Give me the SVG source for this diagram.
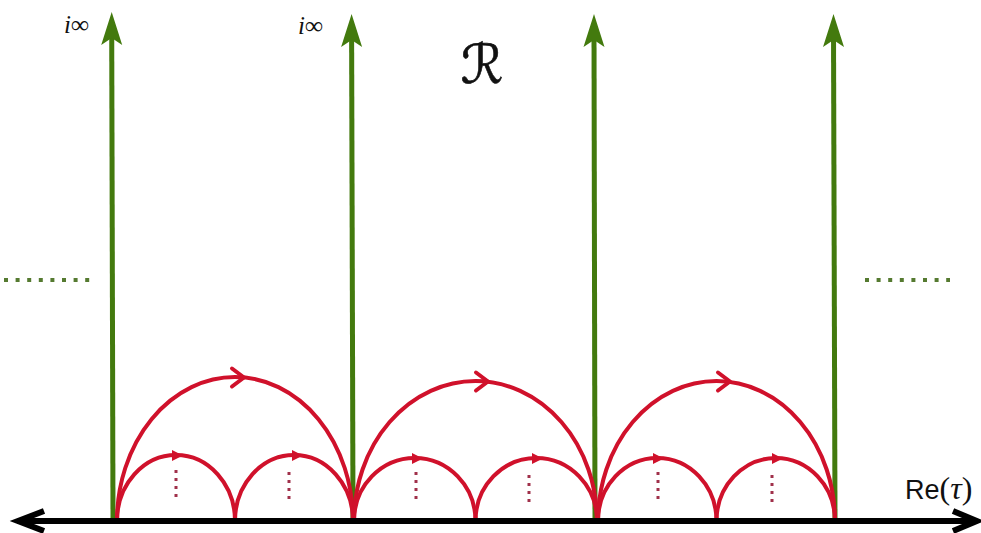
<svg xmlns="http://www.w3.org/2000/svg" xmlns:xlink="http://www.w3.org/1999/xlink" width="981" height="533" viewBox="0 0 981 533">
<style>
.g{stroke:#437a0e;stroke-width:5;fill:none}
.gh{fill:#437a0e;stroke:none}
.gd{stroke:#557a30;stroke-width:4;stroke-dasharray:4 7.6;fill:none}
.r{stroke:#d0112b;stroke-width:4;fill:none}
.rc{stroke:#d0112b;stroke-width:4;fill:none;stroke-linecap:round;stroke-linejoin:round}
.rt{fill:#d0112b;stroke:none}
.rd{stroke:#a0304a;stroke-width:3;stroke-dasharray:3 5;fill:none}
.ax{stroke:#000;stroke-width:6;fill:none}
.inf{font-family:"Liberation Serif","DejaVu Serif",serif;font-style:italic;font-size:25px;fill:#111}
</style>
<defs>
<path id="gArrow" d="M0,0 L10.5,33 L0,26 L-10.5,33 Z"/>
<path id="chev" d="M-12,-9 L0,0 L-12,9"/>
<path id="tri" d="M-10,-5.5 L1,0 L-10,5.5 Z"/>
</defs>
<rect width="981" height="533" fill="#fff"/>

<g id="verticals">
<line class="g" x1="113" y1="518" x2="111.7" y2="30"/>
<use class="gh" xlink:href="#gArrow" x="111.7" y="12"/>
<line class="g" x1="353" y1="518" x2="351.6" y2="32"/>
<use class="gh" xlink:href="#gArrow" x="351.6" y="14"/>
<line class="g" x1="595" y1="518" x2="594" y2="32"/>
<use class="gh" xlink:href="#gArrow" x="594" y="14"/>
<line class="g" x1="835" y1="518" x2="833.5" y2="32"/>
<use class="gh" xlink:href="#gArrow" x="833.5" y="14"/>
</g>

<g id="ellipsis-dots">
<line class="gd" x1="4" y1="280" x2="90" y2="280"/>
<line class="gd" x1="865" y1="280" x2="950" y2="280"/>
</g>

<g id="arcs">
<path class="r" d="M117,521 A118,144 0 0 1 353,521"/>
<path class="r" d="M117,521 A59,66 0 0 1 235,521"/>
<path class="r" d="M235,521 A59,66 0 0 1 353,521"/>
<use class="rc" xlink:href="#chev" x="244" y="377.5"/>
<use class="rt" xlink:href="#tri" x="182" y="455.5"/>
<use class="rt" xlink:href="#tri" x="302" y="455.5"/>
<line class="rd" x1="176" y1="470" x2="176" y2="500"/>
<line class="rd" x1="289" y1="472" x2="289" y2="503"/>

<path class="r" d="M354,521 A121.5,140 0 0 1 597,521"/>
<path class="r" d="M354,521 A60.75,63 0 0 1 475.5,521"/>
<path class="r" d="M475.5,521 A60.75,63 0 0 1 597,521"/>
<use class="rc" xlink:href="#chev" x="488" y="381.5"/>
<use class="rt" xlink:href="#tri" x="422" y="458.5"/>
<use class="rt" xlink:href="#tri" x="542" y="458.5"/>
<line class="rd" x1="416" y1="472" x2="416" y2="503"/>
<line class="rd" x1="529" y1="475" x2="529" y2="506"/>

<path class="r" d="M598,521 A118.5,140 0 0 1 835,521"/>
<path class="r" d="M598,521 A59.25,63 0 0 1 716.5,521"/>
<path class="r" d="M716.5,521 A59.25,63 0 0 1 835,521"/>
<use class="rc" xlink:href="#chev" x="730" y="381.5"/>
<use class="rt" xlink:href="#tri" x="663" y="458.5"/>
<use class="rt" xlink:href="#tri" x="782" y="458.5"/>
<line class="rd" x1="658" y1="472" x2="658" y2="503"/>
<line class="rd" x1="772" y1="475" x2="772" y2="506"/>
</g>

<g id="axis">
<line class="ax" x1="20" y1="521" x2="974" y2="521"/>
<path class="ax" d="M44,511 L18,521 L44,531"/>
<path class="ax" d="M953,511 L977,521 L953,531"/>
</g>

<g id="labels">
<text class="inf" x="64" y="33">i∞</text>
<text class="inf" x="298" y="34">i∞</text>
<text x="482" y="83" text-anchor="middle" font-family="DejaVu Sans, sans-serif" font-size="54" stroke="#111" stroke-width="0.6" fill="#111">ℛ</text>
<text x="905" y="499" font-family="Liberation Sans, Arial, sans-serif" font-size="27" fill="#111">Re<tspan font-family="Liberation Serif, serif" font-size="32">(</tspan><tspan font-family="Liberation Serif, serif" font-style="italic" font-size="32">τ</tspan><tspan font-family="Liberation Serif, serif" font-size="32">)</tspan></text>
</g>
</svg>
